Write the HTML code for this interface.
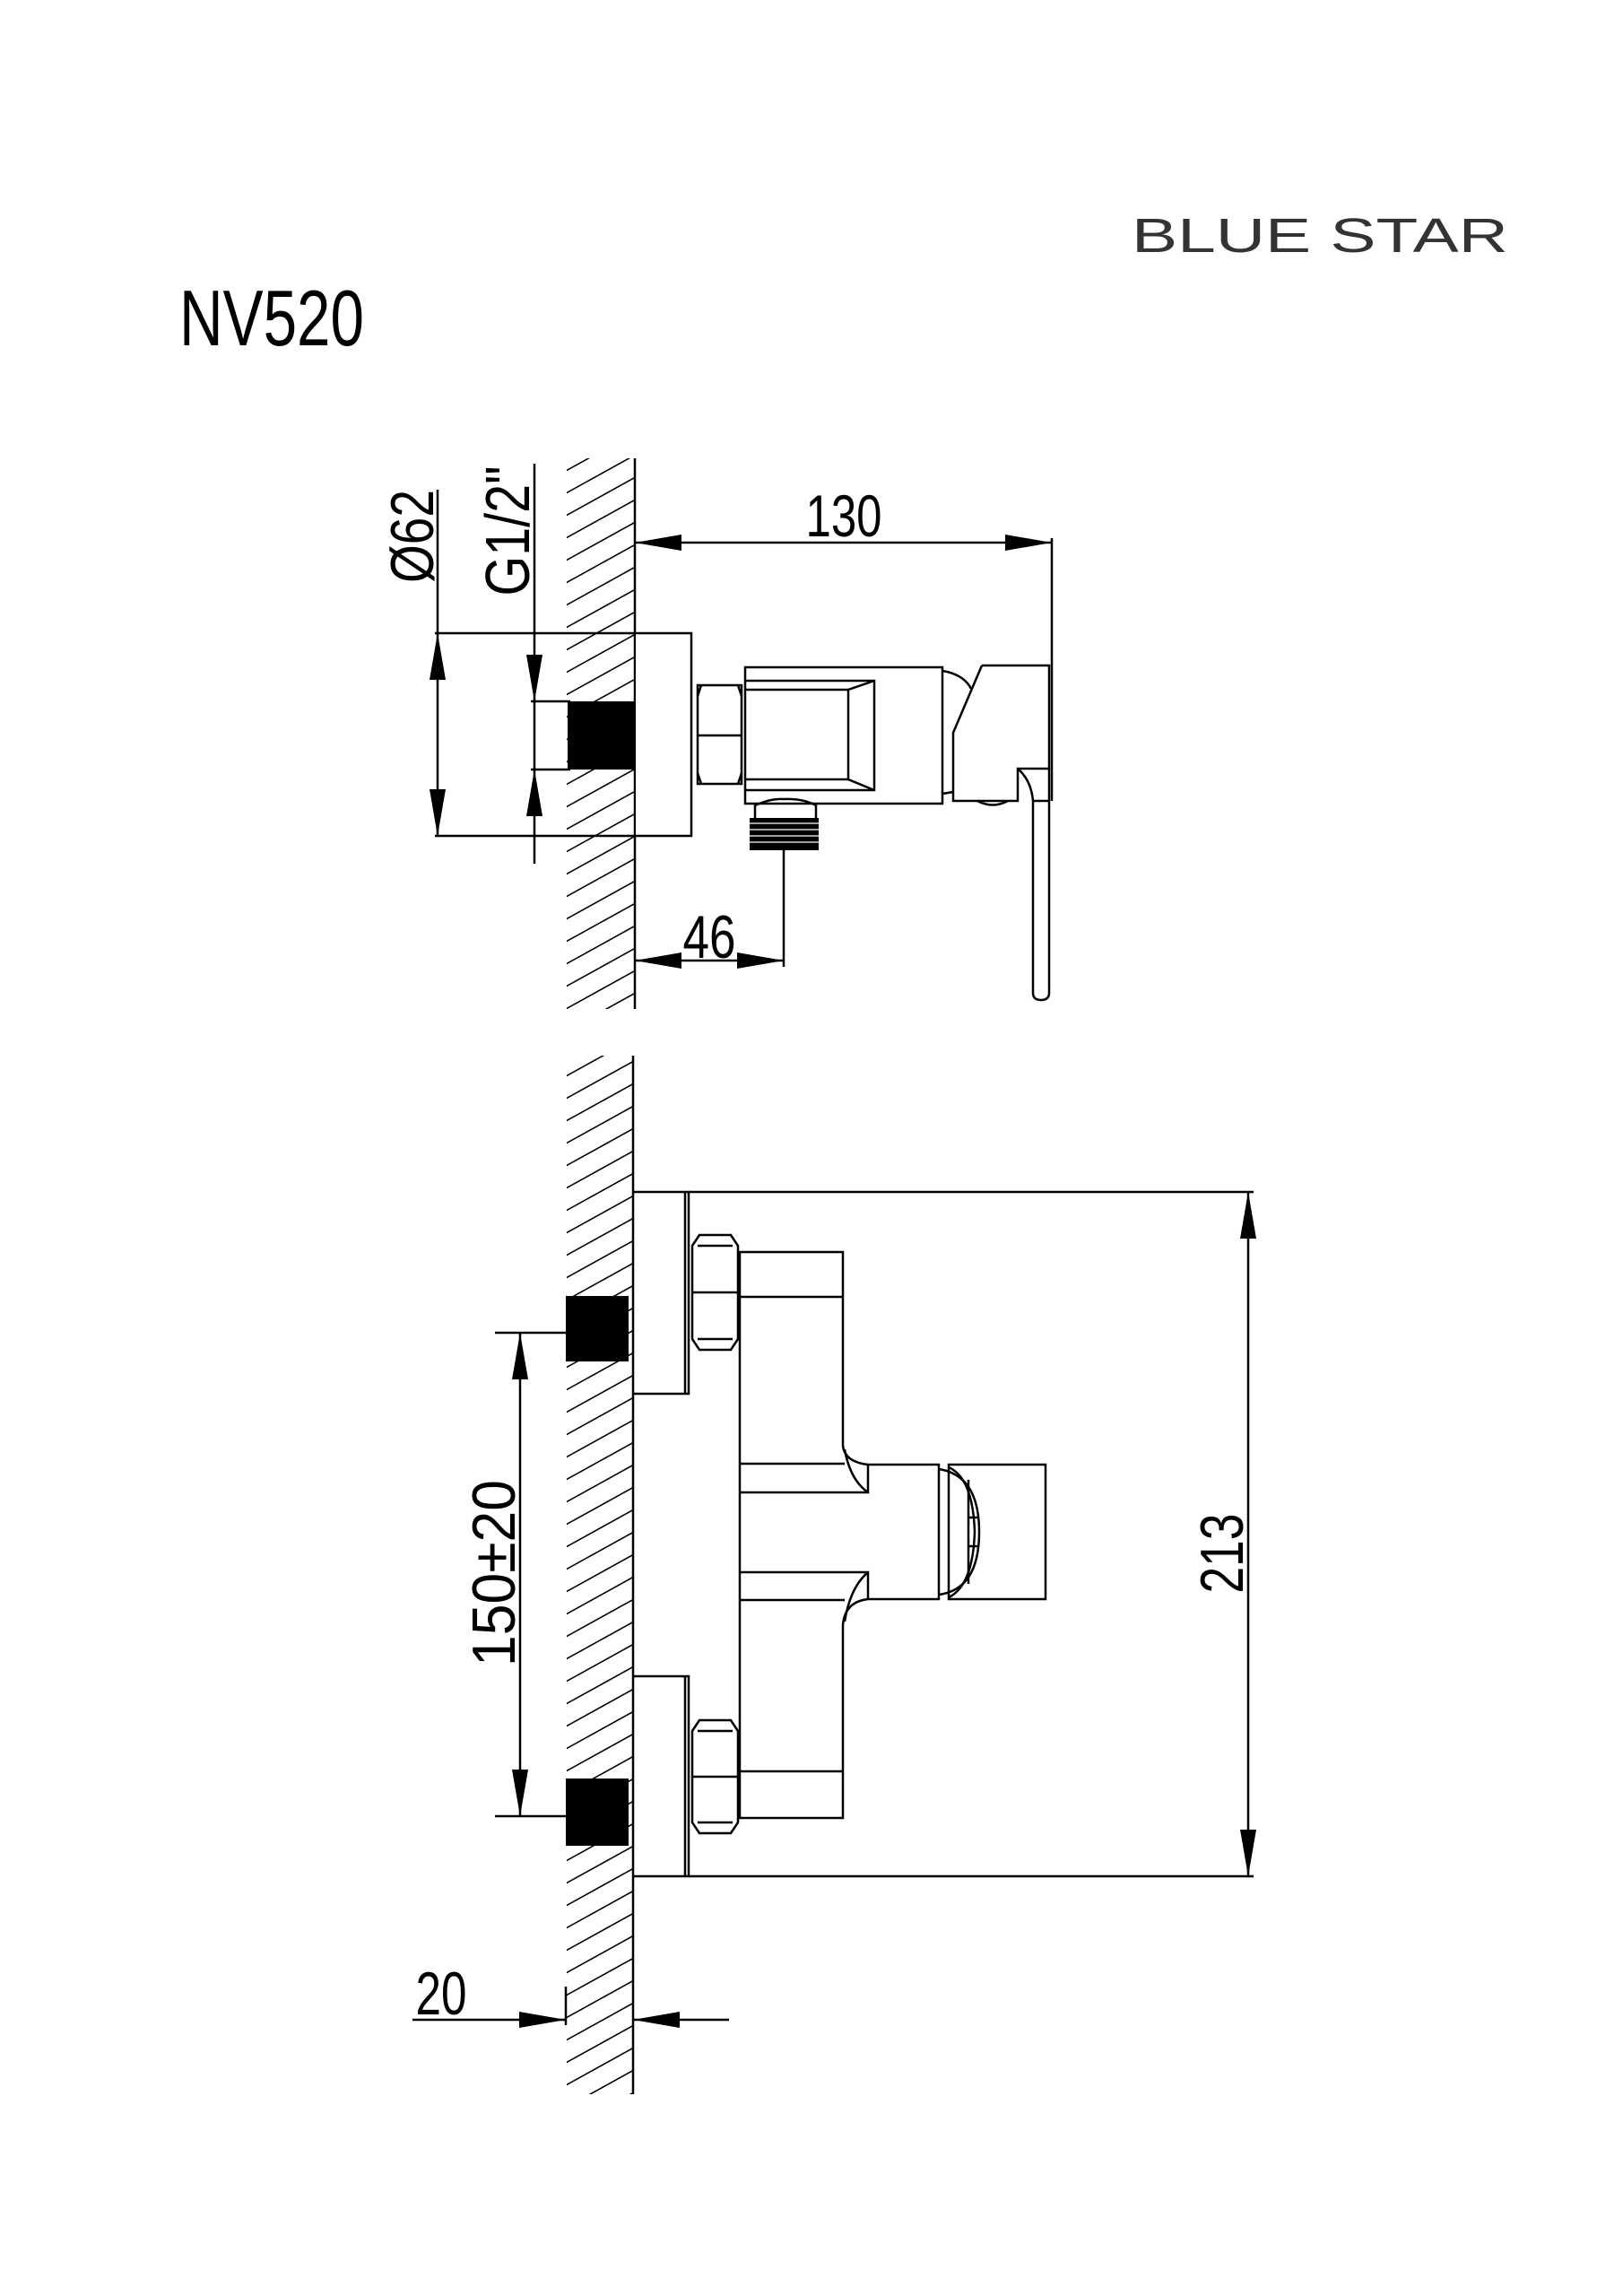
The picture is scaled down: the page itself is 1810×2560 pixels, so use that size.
<!DOCTYPE html>
<html><head><meta charset="utf-8"><style>html,body{margin:0;padding:0;background:#fff}svg{display:block}</style></head><body>
<svg width="1810" height="2560" viewBox="0 0 1810 2560" xmlns="http://www.w3.org/2000/svg">
<defs>
<pattern id="hp" patternUnits="userSpaceOnUse" x="631" y="0" width="76" height="25">
<path d="M0 0 l76 -42 M0 25 l76 -42 M0 50 l76 -42 M0 75 l76 -42" stroke="#000" stroke-width="1.6" fill="none"/>
</pattern>
</defs>
<style>
.l{stroke:#000;stroke-width:2.5;fill:none}
.t{font-family:"Liberation Sans",sans-serif;fill:#000}
</style>
<text class="t" x="200" y="385" font-size="88" textLength="206" lengthAdjust="spacingAndGlyphs">NV520</text>
<text class="t" x="1262" y="281" font-size="54" textLength="420" lengthAdjust="spacingAndGlyphs" style="fill:#333">BLUE STAR</text>

<!-- hatches -->
<rect x="632" y="511" width="75" height="614" fill="url(#hp)"/>
<rect x="632" y="1177" width="75" height="1158" fill="url(#hp)"/>

<!-- ===== TOP VIEW ===== -->
<line class="l" x1="708" y1="511" x2="708" y2="1125"/>
<rect x="709" y="706" width="62" height="226" fill="#fff"/>
<path class="l" d="M708 706 H771 V932 H708"/>
<rect x="633" y="782" width="74" height="76" fill="#000"/>
<path class="l" d="M778 764 H827 V874 H778 Z M778 820 H827 M782 764 L778 776 M823 764 L827 776 M782 874 L778 862 M823 874 L827 862"/>
<rect class="l" x="831" y="744" width="220" height="152"/>
<path class="l" d="M831 759 H975 V881 H831 M975 759 L946 769 V869 L975 881 M946 769 H831 M946 869 H831"/>
<path class="l" d="M1051 748 Q1075 752 1083 768"/>
<path class="l" d="M1051 885 Q1057 884 1063 883"/>
<path class="l" d="M1095 742 H1170 V893 H1152 M1095 742 L1063 817 V893 H1135 V857 H1170 M1135 857 Q1150 870 1152 893 V1107 Q1152 1115 1161 1115 Q1170 1115 1170 1107 V893"/>
<path class="l" d="M1090 893 Q1107 902 1124 893"/>
<path class="l" d="M842 912 V898 Q860 890 874 891 Q895 890 910 898 V912"/>
<rect x="836" y="912" width="77" height="36" fill="#000"/>
<g stroke="#fff" stroke-width="1.2"><line x1="836" y1="918" x2="913" y2="918"/><line x1="836" y1="925" x2="913" y2="925"/><line x1="836" y1="932" x2="913" y2="932"/><line x1="836" y1="939" x2="913" y2="939"/></g>

<line class="l" x1="1173" y1="600" x2="1173" y2="893"/>
<line class="l" x1="708" y1="605" x2="1173" y2="605"/>
<path d="M708 605 L760 596 L760 614 Z M1173 605 L1121 596 L1121 614 Z"/>
<text class="t" x="941" y="598" font-size="66" text-anchor="middle" textLength="85" lengthAdjust="spacingAndGlyphs">130</text>

<line class="l" x1="485" y1="706" x2="708" y2="706"/>
<line class="l" x1="485" y1="932" x2="708" y2="932"/>
<line class="l" x1="488" y1="546" x2="488" y2="932"/>
<path d="M488 706 L479 758 L497 758 Z M488 932 L479 880 L497 880 Z"/>
<text class="t" transform="translate(483 598) rotate(-90)" font-size="68" text-anchor="middle" textLength="104" lengthAdjust="spacingAndGlyphs">Ø62</text>

<line class="l" x1="596" y1="517" x2="596" y2="963"/>
<line class="l" x1="592" y1="782" x2="636" y2="782"/>
<line class="l" x1="592" y1="858" x2="636" y2="858"/>
<path d="M596 782 L587 730 L605 730 Z M596 858 L587 910 L605 910 Z"/>
<text class="t" transform="translate(590 592) rotate(-90)" font-size="70" text-anchor="middle" textLength="145" lengthAdjust="spacingAndGlyphs">G1/2"</text>

<line class="l" x1="874" y1="948" x2="874" y2="1078"/>
<line class="l" x1="708" y1="1071" x2="874" y2="1071"/>
<path d="M708 1071 L760 1062 L760 1080 Z M874 1071 L822 1062 L822 1080 Z"/>
<text class="t" x="791" y="1068" font-size="68" text-anchor="middle" textLength="59" lengthAdjust="spacingAndGlyphs">46</text>

<!-- ===== FRONT VIEW ===== -->
<line class="l" x1="706" y1="1177" x2="706" y2="2335"/>
<path class="l" d="M706 1329 H768 V1554 H706 M706 1869 H768 V2092 H706"/>
<path class="l" d="M764 1329 V1554 M764 1869 V2092"/>
<rect x="631" y="1445" width="70" height="73" fill="#000"/>
<rect x="631" y="1983" width="70" height="75" fill="#000"/>
<path class="l" d="M772 1389 L780 1377 H815 L823 1389 V1493 L815 1505 H780 L772 1493 Z M772 1441 H823 M778 1389 H817 M778 1493 H817"/>
<path class="l" d="M772 1930 L780 1918 H815 L823 1930 V2032 L815 2044 H780 L772 2032 Z M772 1981 H823 M778 1930 H817 M778 2032 H817"/>
<path class="l" d="M825 1396 H940 V1612 Q942 1630 968 1633 H1047 V1783 H968 Q942 1786 940 1812 V2027 H825 Z"/>
<path class="l" d="M825 1446 H940 M825 1975 H940 M825 1632 H942 M825 1664 H968 V1633 M942 1616 Q948 1650 968 1664 M825 1753 H968 V1784 M825 1784 H942 M942 1808 Q948 1770 968 1753"/>
<rect class="l" x="1058" y="1633" width="108" height="150"/>
<path class="l" d="M1047 1638 Q1092 1645 1092 1708 Q1092 1772 1047 1778"/>
<path class="l" d="M1058 1636 Q1085 1648 1087 1708 Q1085 1768 1058 1781"/>
<path class="l" d="M1079 1692 H1090 M1079 1724 H1090 M1080 1650 V1766"/>

<line class="l" x1="768" y1="1329" x2="1398" y2="1329"/>
<line class="l" x1="768" y1="2092" x2="1398" y2="2092"/>
<line class="l" x1="1392" y1="1329" x2="1392" y2="2092"/>
<path d="M1392 1329 L1383 1381 L1401 1381 Z M1392 2092 L1383 2040 L1401 2040 Z"/>
<text class="t" transform="translate(1386 1732) rotate(-90)" font-size="68" text-anchor="middle" textLength="89" lengthAdjust="spacingAndGlyphs">213</text>

<line class="l" x1="552" y1="1486" x2="633" y2="1486"/>
<line class="l" x1="552" y1="2025" x2="633" y2="2025"/>
<line class="l" x1="580" y1="1486" x2="580" y2="2025"/>
<path d="M580 1486 L571 1538 L589 1538 Z M580 2025 L571 1973 L589 1973 Z"/>
<text class="t" transform="translate(574 1754) rotate(-90)" font-size="68" text-anchor="middle" textLength="208" lengthAdjust="spacingAndGlyphs">150±20</text>

<line class="l" x1="460" y1="2252" x2="631" y2="2252"/>
<line class="l" x1="706" y1="2252" x2="813" y2="2252"/>
<line class="l" x1="631" y1="2215" x2="631" y2="2258"/>
<path d="M631 2252 L579 2243 L579 2261 Z M706 2252 L758 2243 L758 2261 Z"/>
<text class="t" x="492" y="2246" font-size="68" text-anchor="middle" textLength="57" lengthAdjust="spacingAndGlyphs">20</text>
</svg>
</body></html>
